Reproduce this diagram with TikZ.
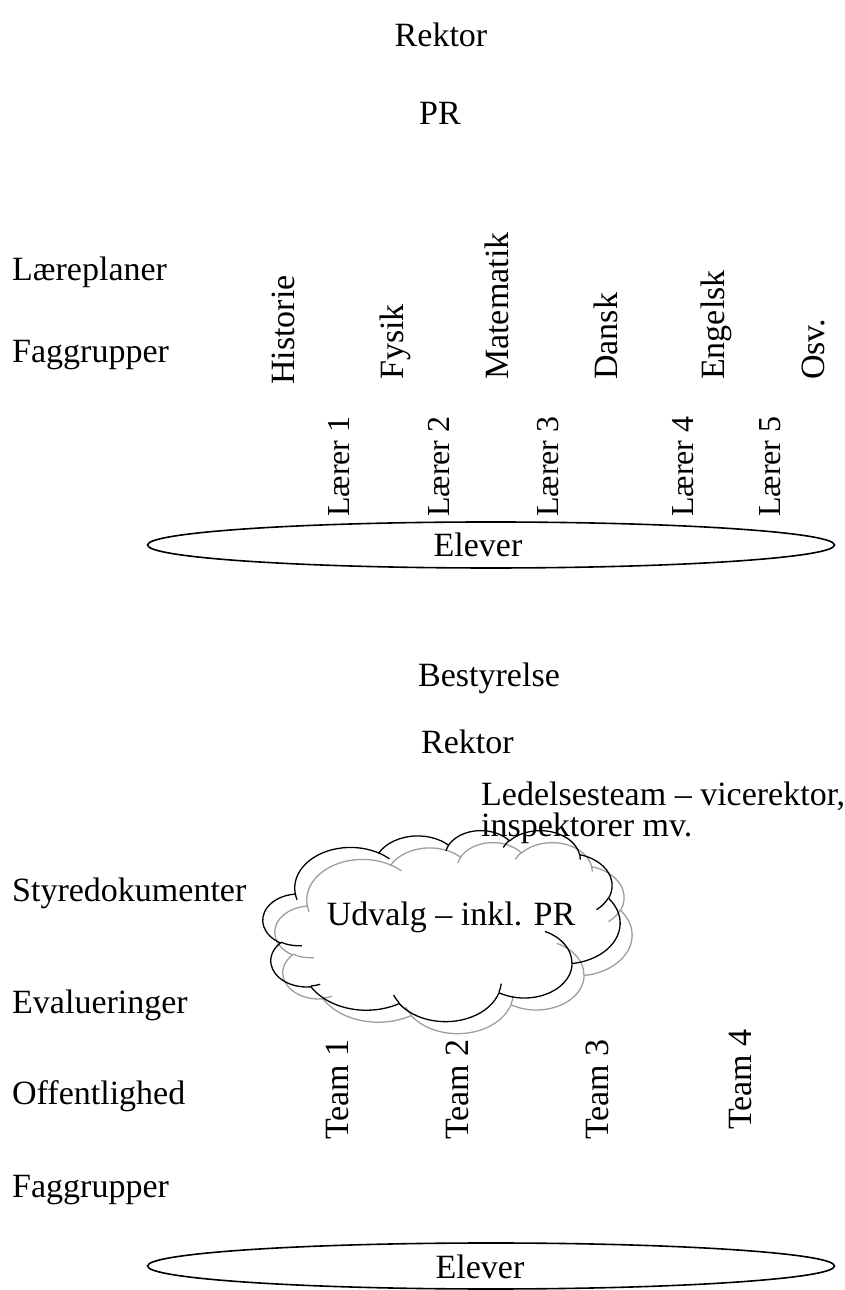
\documentclass[tikz,border=0pt]{standalone}
\usepackage{fontspec}
\newfontfamily\tnr{Liberation Serif}
\usetikzlibrary{shapes.geometric}
% elliptical arc given by its visual start angle and sweep (y axis pointing down)
\newcommand{\carc}[4]{arc[x radius=#1, y radius=#2,
  start angle={atan2(#1*sin(#3),#2*cos(#3))},
  delta angle={mod(atan2(#1*sin(#3+#4),#2*cos(#3+#4))-atan2(#1*sin(#3),#2*cos(#3))+720,360)}]}
% cloud outline in a 432 x 432 box, origin top left
\newcommand{\cloudoutline}[1]{%
  \draw[#1] (39,143.7)
    \carc{67.53}{91.90}{-190.4875}{123.7805}
    \carc{53.33}{72.67}{-144.1024}{89.9452}
    \carc{43.65}{59.45}{-145.8079}{99.7230}
    \carc{48.57}{65.95}{-130.9861}{117.2417}
    \carc{53.33}{72.73}{-78.7089}{109.0269}
    \carc{67.75}{92.20}{-46.2673}{130.2690}
    \carc{57.85}{78.67}{0.6250}{114.0333}
    \carc{67.52}{92.15}{22.4516}{115.1726}
    \carc{77.20}{105.43}{66.2426}{75.7110}
    \carc{43.60}{59.18}{-274.9421}{146.7356}
    \carc{43.45}{59.45}{-246.8285}{152.5189} -- cycle;
  \draw[#1] (46.93,261.77) \carc{43.45}{59.45}{86.7420}{26.4295};
  \draw[#1] (69.28,348.99) \carc{43.60}{59.18}{73.6105}{11.4475};
  \draw[#1] (164.78,390.90) \carc{67.52}{92.15}{137.6242}{14.0811};
  \draw[#1] (288.27,347.51) \carc{67.52}{92.15}{6.4533}{15.9984};
  \draw[#1] (341.29,229.54) \carc{57.85}{78.67}{-70.2924}{70.9174};
  \draw[#1] (417.98,153.54) \carc{53.33}{72.73}{30.3180}{27.7515};
  \draw[#1] (383.24,54.26) \carc{48.57}{65.95}{-13.7443}{14.8589};
  \draw[#1] (290.78,39.52) \carc{48.57}{65.95}{-149.1815}{18.1954};
  \draw[#1] (221.41,47.20) \carc{43.65}{59.45}{-163.4943}{17.6864};
  \draw[#1] (140.00,51.92) \carc{67.53}{91.90}{-66.7070}{12.3194};
  \draw[#1] (41.27,157.89) \carc{67.53}{91.90}{157.6544}{11.8582};
}
\begin{document}
\begin{tikzpicture}[x=1pt,y=1pt,
  lbl/.style={inner sep=0pt,font=\tnr\fontsize{34}{40}\selectfont},
  vlbl/.style={lbl,rotate=90,anchor=west},
  teacher/.style={vlbl,font=\tnr\fontsize{32}{38}\selectfont},
  hlbl/.style={lbl,anchor=west},
  pupils/.style={ellipse,draw,line width=1.6pt,minimum width=687,minimum height=46,inner sep=0pt},
  cloudline/.style={line width=1.3pt,line join=round}
]
\useasboundingbox (0,0) rectangle (844,1290);

% --- upper structure ---
\node[lbl] (rektorA) at (441,1255) {Rektor};
\node[lbl] (pr) at (440,1177) {PR};
\node[hlbl] (laereplaner) at (12,1018) {Læreplaner};
\node[hlbl] (faggrupperA) at (12,935) {Faggrupper};

\node[vlbl] (historie) at (283,905) {Historie};
\node[vlbl] (fysik) at (395,910) {Fysik};
\node[vlbl] (matematik) at (497,910) {Matematik};
\node[vlbl] (dansk) at (606,910) {Dansk};
\node[vlbl] (engelsk) at (716,910) {Engelsk};
\node[vlbl] (osv) at (813,910) {Osv.};

\node[teacher] (laerer1) at (339,773) {Lærer 1};
\node[teacher] (laerer2) at (439,773) {Lærer 2};
\node[teacher] (laerer3) at (548,773) {Lærer 3};
\node[teacher] (laerer4) at (683,773) {Lærer 4};
\node[teacher] (laerer5) at (770,773) {Lærer 5};

\node[pupils] (eleverA) at (491,745) {};
\node[lbl] (eleverAtxt) at (478,745) {Elever};

% --- lower structure ---
\node[hlbl] (bestyrelse) at (418,612) {Bestyrelse};
\node[hlbl] (rektorB) at (421,548) {Rektor};
\node[hlbl] (ledelse) at (481,494) {Ledelsesteam – vicerektor,};
\node[hlbl] (inspektorer) at (481,462) {inspektorer mv.};

% committee cloud with its grey shadow
\begin{scope}[shift={(275,448)},x=0.8264pt,y=-0.4421pt]
  \cloudoutline{cloudline,draw=black!38}
\end{scope}
\begin{scope}[shift={(263,460)},x=0.8264pt,y=-0.4421pt]
  \cloudoutline{cloudline,draw=black}
\end{scope}
\node[lbl] (udvalgtxt) at (451,373) {Udvalg – inkl. PR};

\node[hlbl] (styredok) at (12,397) {Styredokumenter};
\node[hlbl] (evalueringer) at (12,285) {Evalueringer};
\node[hlbl] (offentlighed) at (12,194) {Offentlighed};
\node[hlbl] (faggrupperB) at (12,100) {Faggrupper};

\node[vlbl] (team1) at (337,150) {Team 1};
\node[vlbl] (team2) at (457,150) {Team 2};
\node[vlbl] (team3) at (597,150) {Team 3};
\node[vlbl] (team4) at (740,160) {Team 4};

\node[pupils] (eleverB) at (491,24) {};
\node[lbl] (eleverBtxt) at (480,23) {Elever};
\end{tikzpicture}
\end{document}
